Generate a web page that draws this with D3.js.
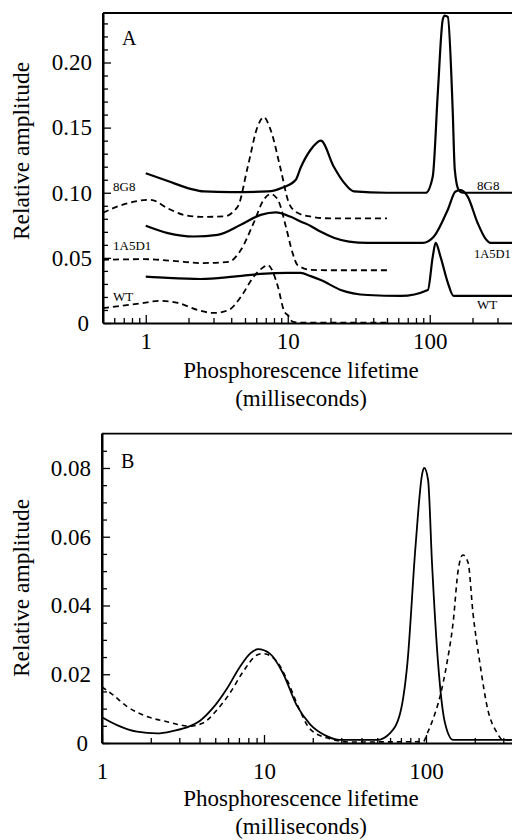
<!DOCTYPE html>
<html>
<head>
<meta charset="utf-8">
<script src="https://cdn.jsdelivr.net/npm/d3@7"></script>
<style>
html,body{margin:0;padding:0;background:#fff;overflow:hidden;}
svg{display:block;}
text{font-family:"Liberation Serif","Times New Roman",serif;fill:#000;}
</style>
</head>
<body>
<svg id="chart" width="512" height="840"></svg>
<script>
// ---------- Panel A data: [lifetime (ms), relative amplitude] ----------
const a8G8Solid = [[1.0,0.115],[1.43,0.109],[2.07,0.103],[2.56,0.101],[4.0,0.1005],[7.23,0.101],[9.22,0.104],[11.4,0.110],[12.3,0.119],[14.5,0.133],[17.1,0.140],[21.1,0.120],[24.8,0.108],[29.2,0.101],[50,0.100],[93.8,0.100],[105,0.1125],[114,0.177],[123.5,0.233],[127.5,0.236],[134,0.235],[145,0.164],[150,0.118],[160,0.102],[170,0.100],[500,0.100]];
const a8G8Dash = [[0.5,0.0846],[0.635,0.0895],[1.085,0.0946],[1.43,0.088],[1.85,0.083],[2.44,0.0815],[3.54,0.0818],[4.45,0.0895],[5.23,0.120],[6.14,0.151],[6.77,0.158],[7.59,0.148],[8.92,0.118],[10.2,0.092],[11.7,0.0846],[14.0,0.082],[20,0.0803],[50,0.0803]];
const a1A5D1Solid = [[1.0,0.0746],[1.43,0.069],[2.18,0.0664],[3.21,0.0677],[4.67,0.0754],[6.45,0.083],[8.24,0.0849],[10.5,0.0815],[12.3,0.078],[14.5,0.0745],[17.1,0.070],[21.1,0.0655],[27,0.0625],[36.6,0.0615],[89.3,0.0615],[107,0.0664],[134,0.087],[152,0.101],[165,0.102],[185,0.097],[217,0.077],[246,0.065],[268,0.0615],[500,0.0615]];
const a1A5D1Dash = [[0.5,0.0485],[0.968,0.049],[1.85,0.047],[2.44,0.046],[3.84,0.047],[4.67,0.056],[5.76,0.077],[6.77,0.0946],[7.59,0.099],[8.52,0.0946],[9.7,0.074],[10.8,0.054],[11.7,0.0446],[14.5,0.0408],[20,0.0405],[50,0.0405]];
const aWTSolid = [[1.0,0.0356],[1.43,0.0346],[2.44,0.0338],[4.16,0.0356],[6.45,0.0377],[10.0,0.0385],[12.3,0.0385],[14.5,0.036],[17.1,0.033],[23.6,0.0254],[36.6,0.0215],[62.6,0.0208],[97,0.0254],[105,0.051],[110,0.0615],[119,0.051],[134,0.031],[147,0.0208],[500,0.0208]];
const aWTDash = [[0.5,0.0115],[0.968,0.0154],[1.23,0.017],[1.68,0.0154],[2.32,0.010],[3.01,0.0077],[3.84,0.010],[4.67,0.020],[5.76,0.0356],[6.77,0.043],[7.2,0.0446],[8.52,0.028],[9.37,0.010],[10.2,0.005],[10.8,0.001],[12,0.0003],[50,0.0003]];
const aLabels = ["8G8","1A5D1","WT"];
const aLeftLabelY = [0.101,0.056,0.017];
const aRightLabelY = [0.102,0.050,0.011];

// ---------- Panel B data ----------
const bSolid = [[1,0.0075],[1.238,0.0052],[1.645,0.0033],[2.185,0.0028],[2.74,0.0035],[3.49,0.0049],[4.03,0.0065],[4.84,0.0102],[5.90,0.0158],[7.11,0.0222],[8.20,0.026],[9.19,0.0273],[10.87,0.026],[13.1,0.0203],[15.9,0.011],[19.2,0.0055],[24.4,0.002],[29.4,0.0009],[49.9,0.0009],[60,0.0029],[69.3,0.0087],[76.8,0.0233],[86.1,0.057],[94.9,0.0785],[97.6,0.080],[103,0.0765],[109,0.052],[118.7,0.0233],[131,0.0058],[147,0.0009],[1000,0.0009]];
const bDash = [[1,0.0163],[1.169,0.014],[1.427,0.0106],[1.896,0.0077],[2.52,0.0062],[3.49,0.0049],[4.20,0.0058],[5.12,0.0096],[6.16,0.0145],[7.42,0.0207],[9.06,0.0256],[9.84,0.026],[12.0,0.0237],[13.9,0.0183],[16.6,0.0096],[19.2,0.0041],[24.4,0.0015],[33.9,0.0003],[96.3,0.0004],[102,0.0029],[110,0.0067],[122,0.0135],[134.7,0.0233],[147,0.035],[158,0.0503],[169,0.0547],[182,0.0524],[195,0.0378],[215,0.0233],[241,0.0096],[272,0.0033],[299,0.0009],[1000,0.0005]];

// ---------- Ticks ----------
const aXMajor = [1,10,100];
const aXMinor = [0.6,0.7,0.8,0.9,2,3,4,5,6,7,8,9,20,30,40,50,60,70,80,90,200,300,400,500];
const aYMajor = [0,0.05,0.10,0.15,0.20];
const aYMinor = d3.range(1,24).map(i=>i/100).filter(v=>Math.abs(v*20-Math.round(v*20))>1e-6);
const bXMajor = [1,10,100];
const bXMinor = [2,3,4,5,6,7,8,9,20,30,40,50,60,70,80,90,200,300,400,500,600,700,800,900];
const bYMajor = [0,0.02,0.04,0.06,0.08];
const bYMinor = [0.005,0.01,0.015,0.025,0.03,0.035,0.045,0.05,0.055,0.065,0.07,0.075,0.085];

const svg = d3.select("#chart");

function panel(cfg){
  const g = svg.append("g");
  const x = cfg.x, y = cfg.y;
  const [x0] = x.range(), x1 = x.range()[1];
  const [yb, yt] = y.range();
  g.append("g").attr("transform",`translate(0,${yb})`)
    .call(d3.axisBottom(x).tickValues(cfg.xMinor).tickSizeInner(-5).tickSizeOuter(0).tickFormat(""))
    .call(s=>s.select(".domain").remove());
  g.append("g").attr("transform",`translate(0,${yb})`)
    .call(d3.axisBottom(x).tickValues(cfg.xMajor).tickSizeInner(-8).tickSizeOuter(0).tickPadding(cfg.xPad).tickFormat(d3.format("d")));
  g.append("g").attr("transform",`translate(${x0},0)`)
    .call(d3.axisLeft(y).tickValues(cfg.yMinor).tickSizeInner(-5).tickSizeOuter(0).tickFormat(""))
    .call(s=>s.select(".domain").remove());
  const ay = g.append("g").attr("transform",`translate(${x0},0)`)
    .call(d3.axisLeft(y).tickValues(cfg.yMajor).tickSizeInner(-8).tickSizeOuter(0).tickPadding(11).tickFormat(d=>d===0?"0":cfg.yFmt(d)));
  g.selectAll(".tick line").attr("stroke","#000").attr("stroke-width",1.3);
  g.selectAll(".domain").attr("stroke","#000").attr("stroke-width",2);
  g.selectAll(".tick text").style("font-family",'"Liberation Serif","Times New Roman",serif').style("font-size","23px").attr("fill","#000");
  ay.selectAll(".tick text").filter(d=>d===0).attr("x",-14);
  g.append("line").attr("x1",x0).attr("x2",x1+10).attr("y1",yt).attr("y2",yt).attr("stroke","#000").attr("stroke-width",1.8);
  g.append("line").attr("x1",x0).attr("x2",x0).attr("y1",yt).attr("y2",yb).attr("stroke","#000").attr("stroke-width",2);
  g.append("text").attr("x",x0+19).attr("y",yt+cfg.letterDy).style("font-size","20px").text(cfg.letter);
  const cx = 301;
  g.append("text").attr("x",cx).attr("y",cfg.titleY).attr("text-anchor","middle").style("font-size","23px").text("Phosphorescence lifetime");
  g.append("text").attr("x",cx).attr("y",cfg.titleY+28).attr("text-anchor","middle").style("font-size","23px").text("(milliseconds)");
  g.append("text").attr("transform",`translate(29,${cfg.yTitleC}) rotate(-90)`).attr("text-anchor","middle").style("font-size","23.5px").text("Relative amplitude");
  return g;
}

function drawLine(g, x, y, data, dashed, width, dash){
  const line = d3.line().x(d=>x(d[0])).y(d=>y(d[1])).curve(d3.curveMonotoneX);
  g.append("path").datum(data).attr("d",line).attr("fill","none").attr("stroke","#000")
    .attr("stroke-width",width).attr("stroke-linejoin","round")
    .attr("stroke-dasharray",dashed?dash:null);
}

// ---------- Panel A ----------
const xA = d3.scaleLog().domain([0.5,500]).range([103,529]);
const yA = d3.scaleLinear().domain([0,0.238]).range([323,13]);
const gA = panel({x:xA,y:yA,xMajor:aXMajor,xMinor:aXMinor,yMajor:aYMajor,yMinor:aYMinor,xPad:10,
  yFmt:d3.format(".2f"),letter:"A",letterDy:32,titleY:378,yTitleC:151});
drawLine(gA,xA,yA,a8G8Solid,false,2.2);
drawLine(gA,xA,yA,a1A5D1Solid,false,2.2);
drawLine(gA,xA,yA,aWTSolid,false,2.2);
drawLine(gA,xA,yA,a8G8Dash,true,1.8,"6,4");
drawLine(gA,xA,yA,a1A5D1Dash,true,1.8,"6,4");
drawLine(gA,xA,yA,aWTDash,true,1.8,"6,4");
gA.selectAll(".lblL").data(aLabels).join("text").attr("x",113).attr("y",(d,i)=>yA(aLeftLabelY[i]))
  .style("font-size","13px").text(d=>d);
gA.selectAll(".lblR").data(aLabels).join("text").attr("x",(d,i)=>i===1?474:477).attr("y",(d,i)=>yA(aRightLabelY[i]))
  .style("font-size",(d,i)=>i===1?"12.5px":"13px").text(d=>d);

// ---------- Panel B ----------
const xB = d3.scaleLog().domain([1,1000]).range([102,588]);
const yB = d3.scaleLinear().domain([0,0.09]).range([743,433.6]);
const gB = panel({x:xB,y:yB,xMajor:bXMajor,xMinor:bXMinor,yMajor:bYMajor,yMinor:bYMinor,xPad:20,
  yFmt:d3.format(".2f"),letter:"B",letterDy:34,titleY:806,yTitleC:588});
drawLine(gB,xB,yB,bSolid,false,1.8);
drawLine(gB,xB,yB,bDash,true,1.6,"5,4");
</script>
</body>
</html>
